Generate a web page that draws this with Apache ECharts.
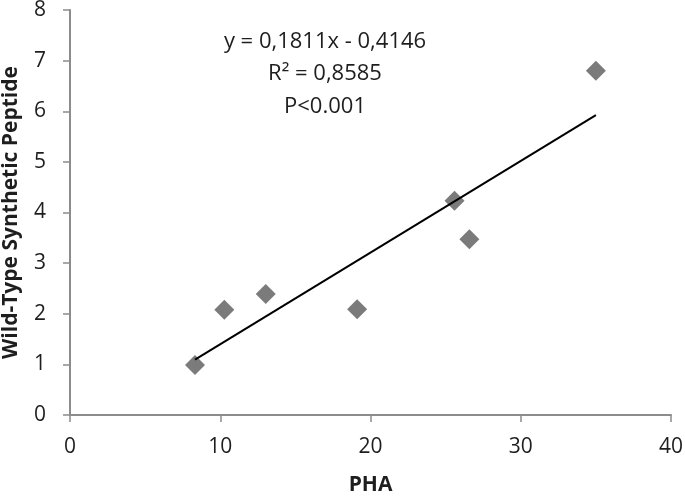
<!DOCTYPE html>
<html><head><meta charset="utf-8">
<script src="https://cdn.jsdelivr.net/npm/echarts@6/dist/echarts.min.js"></script>
<style>html,body{margin:0;padding:0;background:#fff}#c{width:685px;height:498px}</style>
</head><body><div id="c"></div>
<script>
const phaValues = [8.32, 10.27, 13.03, 19.11, 25.59, 26.58, 35.0];
const peptideValues = [0.99, 2.08, 2.39, 2.09, 4.23, 3.47, 6.8];
const trendSlope = 0.1811;
const trendIntercept = -0.4146;
const trendX = [8.32, 35.0];
const equationLines = ['y = 0,1811x - 0,4146', 'R² = 0,8585', 'P<0.001'];
const xTitle = 'PHA';
const yTitle = 'Wild-Type Synthetic Peptide';

const chart = echarts.init(document.getElementById('c'));
const font = '"Open Sans", "Liberation Sans", sans-serif';
const axisGray = '#8c8c8c';
const textColor = '#1e1e1e';
chart.setOption({
  animation: false,
  grid: {left: 70, right: 14, top: 10, bottom: 83, containLabel: false, outerBoundsMode: 'none'},
  xAxis: {
    type: 'value', min: 0, max: 40, interval: 10,
    name: xTitle, nameLocation: 'middle', nameGap: 60,
    nameTextStyle: {fontFamily: font, fontWeight: 'bold', fontSize: 21, color: textColor},
    axisLine: {lineStyle: {color: axisGray, width: 2}},
    axisTick: {show: true, length: 7, lineStyle: {color: axisGray, width: 1.5}},
    axisLabel: {fontFamily: font, fontSize: 21, color: textColor, margin: 22},
    splitLine: {show: false}
  },
  yAxis: {
    type: 'value', min: 0, max: 8, interval: 1,
    name: yTitle, nameLocation: 'middle', nameGap: 48, nameRotate: 90,
    nameTextStyle: {fontFamily: font, fontWeight: 'bold', fontSize: 21, color: textColor},
    axisLine: {show: true, lineStyle: {color: axisGray, width: 2}},
    axisTick: {show: true, length: 7, lineStyle: {color: axisGray, width: 1.5}},
    axisLabel: {fontFamily: font, fontSize: 21, color: textColor, margin: 24},
    splitLine: {show: false}
  },
  series: [
    {
      type: 'line',
      data: trendX.map(x => [x, trendSlope * x + trendIntercept]),
      showSymbol: false, symbol: 'none',
      lineStyle: {color: '#000', width: 2},
      z: 3
    },
    {
      type: 'scatter',
      data: phaValues.map((x, i) => [x, peptideValues[i]]),
      symbol: 'diamond', symbolSize: [20, 20],
      itemStyle: {color: '#5a5a5a'},
      z: 2
    }
  ],
  graphic: equationLines.map((t, i) => ({
    type: 'text', x: 325, y: [42, 74, 107][i],
    style: {text: t, font: '22px ' + font, fill: textColor, align: 'center', verticalAlign: 'middle', textAlign: 'center', textVerticalAlign: 'middle'}
  }))
});
</script></body></html>
